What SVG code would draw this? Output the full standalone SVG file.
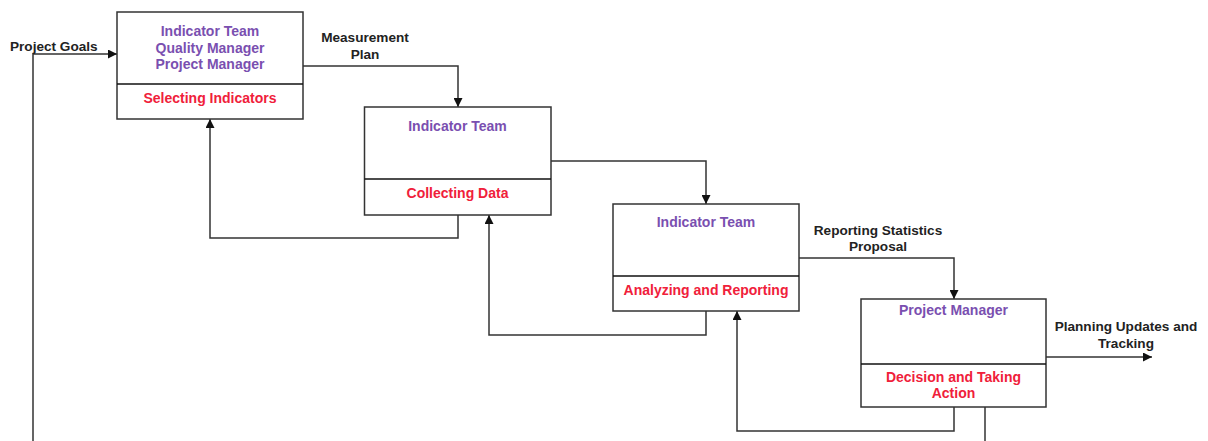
<svg xmlns="http://www.w3.org/2000/svg" width="1208" height="441" viewBox="0 0 1208 441">
<defs>
<marker id="arr" viewBox="0 0 10 10" refX="10" refY="5" markerWidth="10" markerHeight="9" markerUnits="userSpaceOnUse" orient="auto">
<path d="M0,0 L10,5 L0,10 z" fill="#111"/>
</marker>
<style>
.box{fill:#fff;stroke:#333;stroke-width:1.5}
.div{stroke:#111;stroke-width:1.3}
.role{font-family:"Liberation Sans",Arial,sans-serif;font-weight:bold;font-size:14px;fill:#7A4FB0;text-anchor:middle}
.act{font-family:"Liberation Sans",Arial,sans-serif;font-weight:bold;font-size:14px;fill:#F0203A;text-anchor:middle}
.lbl{font-family:"Liberation Sans",Arial,sans-serif;font-weight:bold;font-size:13.6px;fill:#222;text-anchor:middle}
.con{fill:none;stroke:#333;stroke-width:1.5}
</style>
</defs>
<rect width="1208" height="441" fill="#fff"/>
<g id="connectors">
<path class="con" d="M33,441 V54 H117" marker-end="url(#arr)"/>
<path class="con" d="M303,66 H458 V107" marker-end="url(#arr)"/>
<path class="con" d="M458,215 V238 H210 V119" marker-end="url(#arr)"/>
<path class="con" d="M551,161 H706 V204" marker-end="url(#arr)"/>
<path class="con" d="M706,311 V335 H489 V215" marker-end="url(#arr)"/>
<path class="con" d="M799,258 H954 V299" marker-end="url(#arr)"/>
<path class="con" d="M954,407 V431 H737 V311" marker-end="url(#arr)"/>
<path class="con" d="M985,407 V441"/>
<path class="con" d="M1046,357 H1152" marker-end="url(#arr)"/>
<text class="lbl" x="10" y="51" style="text-anchor:start">Project Goals</text>
<text class="lbl" x="365" y="42">Measurement</text>
<text class="lbl" x="365" y="59">Plan</text>
<text class="lbl" x="878" y="234.5">Reporting Statistics</text>
<text class="lbl" x="878" y="250.5">Proposal</text>
<text class="lbl" x="1126" y="330.5">Planning Updates and</text>
<text class="lbl" x="1126" y="347.5">Tracking</text>
</g>
<g id="node-selecting">
<rect class="box" x="117" y="12" width="186" height="107"/>
<line class="div" x1="117" y1="84" x2="303" y2="84"/>
<text class="role" x="210" y="35.5">Indicator Team</text>
<text class="role" x="210" y="52.5">Quality Manager</text>
<text class="role" x="210" y="69">Project Manager</text>
<text class="act" x="210" y="103">Selecting Indicators</text>
</g>
<g id="node-collecting">
<rect class="box" x="364.5" y="107" width="186.5" height="108"/>
<line class="div" x1="364.5" y1="179" x2="551" y2="179"/>
<text class="role" x="457.5" y="131">Indicator Team</text>
<text class="act" x="457.5" y="198">Collecting Data</text>
</g>
<g id="node-analyzing">
<rect class="box" x="613" y="204" width="186" height="107"/>
<line class="div" x1="613" y1="276" x2="799" y2="276"/>
<text class="role" x="706" y="227">Indicator Team</text>
<text class="act" x="706" y="294.5">Analyzing and Reporting</text>
</g>
<g id="node-decision">
<rect class="box" x="861" y="299" width="185" height="108"/>
<line class="div" x1="861" y1="364" x2="1046" y2="364"/>
<text class="role" x="953.5" y="314.5">Project Manager</text>
<text class="act" x="953.5" y="381.5">Decision and Taking</text>
<text class="act" x="953.5" y="397.5">Action</text>
</g>
</svg>
